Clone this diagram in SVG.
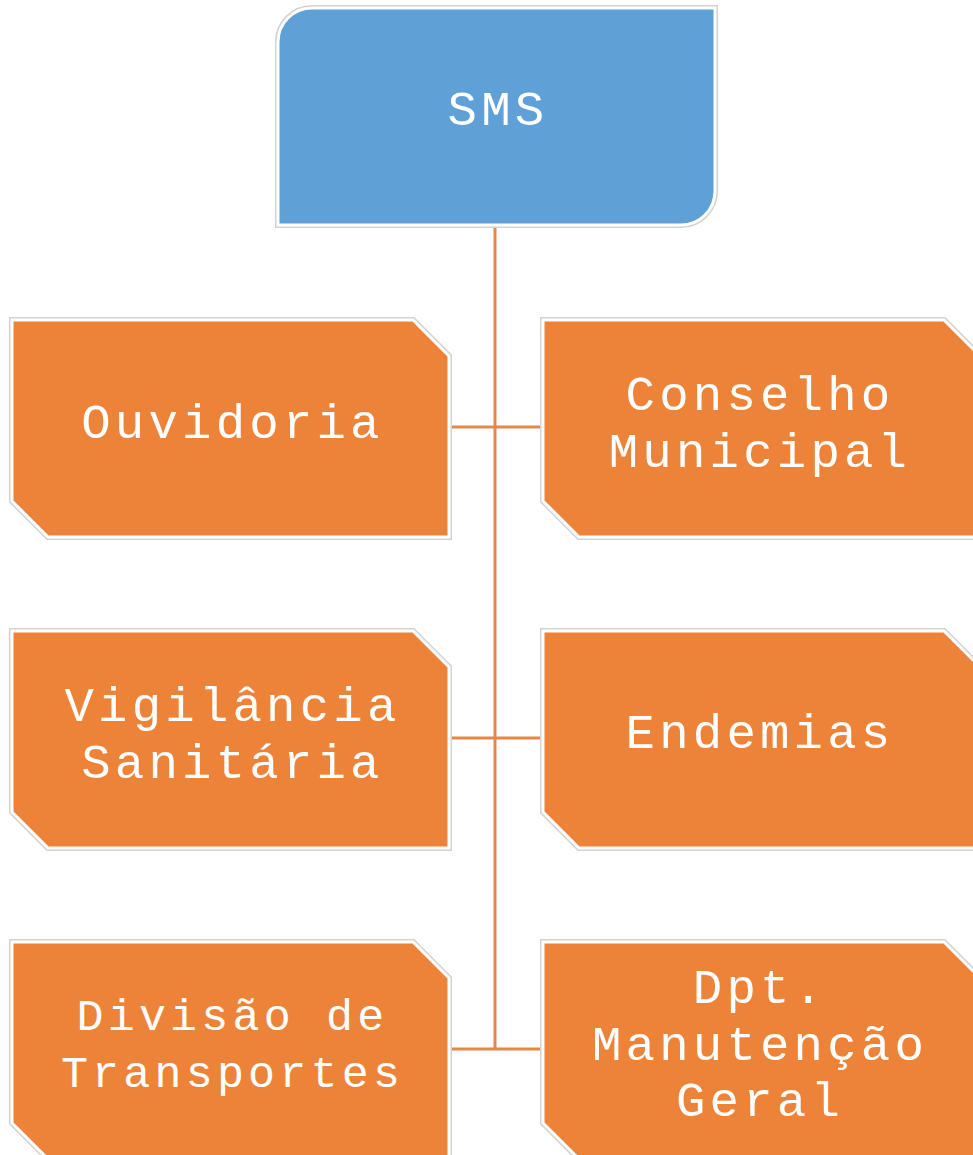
<svg xmlns="http://www.w3.org/2000/svg" width="973" height="1155" viewBox="0 0 973 1155">
<style>
.halo{fill:none;stroke:#d2d2d2;stroke-width:6;stroke-linejoin:miter}
.blue{fill:#5fa0d6;stroke:#ffffff;stroke-width:3}
.orange{fill:#ed8338;stroke:#ffffff;stroke-width:3}
.lbl{font-family:"Liberation Mono","Courier New",monospace;fill:#ffffff;font-size:49px;letter-spacing:4.2px;text-anchor:middle}
.sm{font-size:45px;letter-spacing:4.2px}
.conn{fill:none;stroke:#e2894a;stroke-width:3}
</style>
<defs>
<path id="snip" d="M0,0 H401 L437,36 V217 H36 L0,181 Z"/>
<path id="round" d="M34,0 H437 V183 A34,34 0 0 1 403,217 H0 V34 A34,34 0 0 1 34,0 Z"/>
</defs>
<rect width="973" height="1155" fill="#ffffff"/>
<g id="connectors">
<line class="conn" x1="495" y1="228" x2="495" y2="1049"/>
<line class="conn" x1="451" y1="427" x2="541" y2="427"/>
<line class="conn" x1="451" y1="738" x2="541" y2="738"/>
<line class="conn" x1="451" y1="1049" x2="541" y2="1049"/>
</g>
<g id="sms" transform="translate(278,8)">
<use href="#round" class="halo"/>
<use href="#round" class="blue"/>
<text class="lbl" x="220" y="117">SMS</text>
</g>
<g id="ouvidoria" transform="translate(12,320)">
<use href="#snip" class="halo"/>
<use href="#snip" class="orange"/>
<text class="lbl" x="220.5" y="118">Ouvidoria</text>
</g>
<g id="conselho" transform="translate(543,320)">
<use href="#snip" class="halo"/>
<use href="#snip" class="orange"/>
<text class="lbl" x="217" y="90">Conselho</text>
<text class="lbl" x="217" y="147">Municipal</text>
</g>
<g id="vigilancia" transform="translate(12,631)">
<use href="#snip" class="halo"/>
<use href="#snip" class="orange"/>
<text class="lbl" x="220.5" y="90">Vigilância</text>
<text class="lbl" x="220.5" y="147">Sanitária</text>
</g>
<g id="endemias" transform="translate(543,631)">
<use href="#snip" class="halo"/>
<use href="#snip" class="orange"/>
<text class="lbl" x="217" y="117">Endemias</text>
</g>
<g id="divisao" transform="translate(12,942)">
<use href="#snip" class="halo"/>
<use href="#snip" class="orange"/>
<text class="lbl sm" x="220.5" y="88">Divisão de</text>
<text class="lbl sm" x="220.5" y="145">Transportes</text>
</g>
<g id="dpt" transform="translate(543,942)">
<use href="#snip" class="halo"/>
<use href="#snip" class="orange"/>
<text class="lbl" x="217" y="61">Dpt.</text>
<text class="lbl" x="217" y="118">Manutenção</text>
<text class="lbl" x="217" y="174">Geral</text>
</g>
</svg>
